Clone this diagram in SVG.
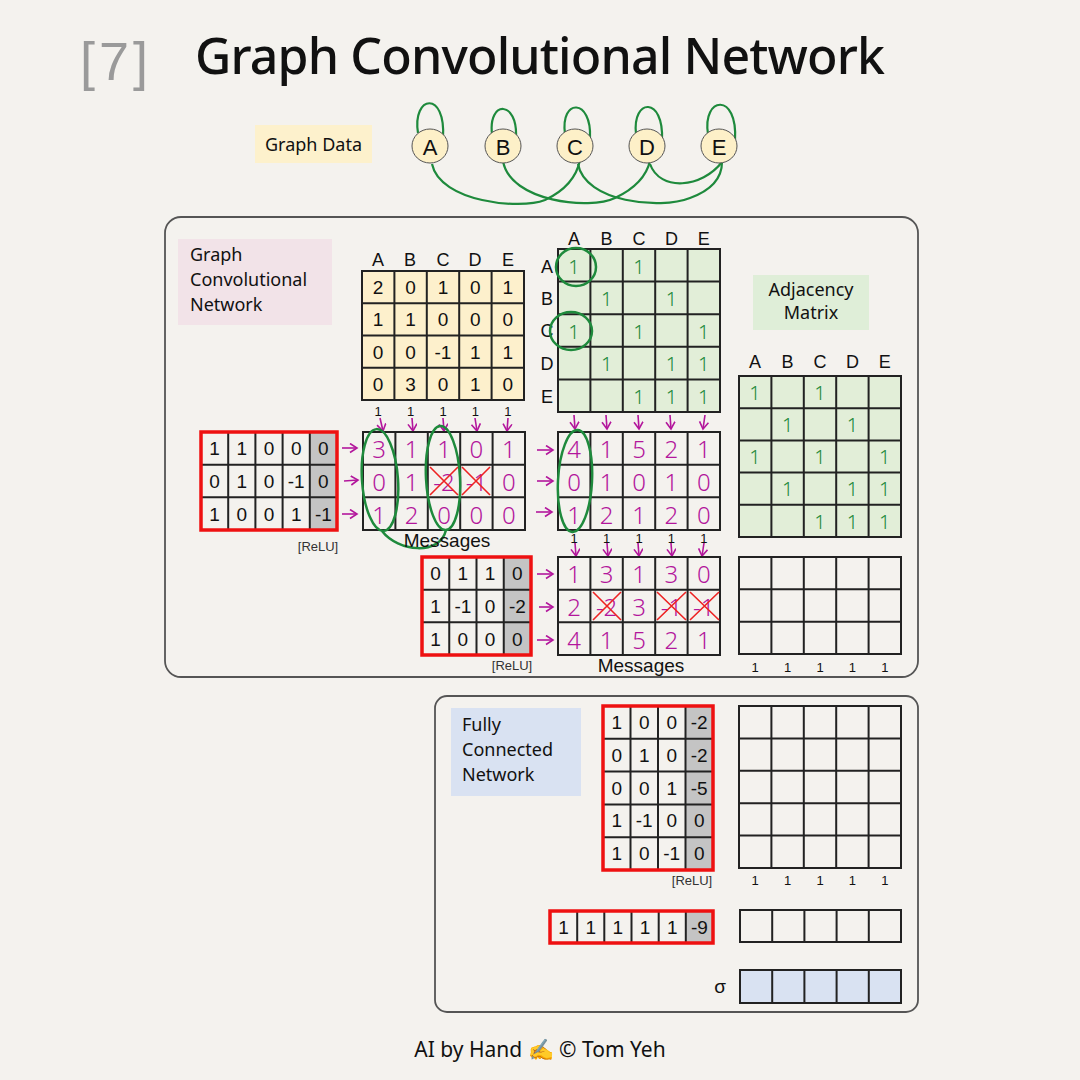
<svg xmlns="http://www.w3.org/2000/svg" width="1080" height="1080" viewBox="0 0 1080 1080">
<style>
.t{font-family:"Liberation Sans","DejaVu Sans",sans-serif;font-size:19px;fill:#111;text-anchor:middle;dominant-baseline:central}
.hdr{font-family:"Liberation Sans","DejaVu Sans",sans-serif;font-size:18px;fill:#111;text-anchor:middle;dominant-baseline:central}
.node{font-family:"Liberation Sans","DejaVu Sans",sans-serif;font-size:22px;fill:#111;text-anchor:middle;dominant-baseline:central}
.one{font-family:"Liberation Sans","DejaVu Sans",sans-serif;font-size:13px;fill:#111;text-anchor:middle;dominant-baseline:central}
.lbl{font-family:"Noto Sans","DejaVu Sans",sans-serif;font-size:18px;fill:#111}
.hand{font-family:"Noto Sans","DejaVu Sans",sans-serif;font-size:24px;font-weight:300;fill:#b3169c;text-anchor:middle;dominant-baseline:central}
.gone{font-family:"Noto Sans","DejaVu Sans",sans-serif;font-size:20px;font-weight:300;fill:#1e8a3c;text-anchor:middle;dominant-baseline:central}
.grid{fill:none;stroke:#222;stroke-width:2}
.red{fill:none;stroke:#ee1111;stroke-width:3.5}
.gray{fill:#c4c4c4}
.gc{fill:none;stroke:#1e8a3c;stroke-width:2.5}
.pa{fill:none;stroke:#b3169c;stroke-width:1.6;marker-end:url(#ah)}
.x{stroke:#ee2222;stroke-width:1.6}
.box{fill:none;stroke:#555;stroke-width:1.8}
.edge{fill:none;stroke:#1e8a3c;stroke-width:2.2}
.small{font-family:"Liberation Sans","DejaVu Sans",sans-serif;font-size:13px;fill:#333;text-anchor:middle}
</style>
<defs>
<marker id="ah" markerUnits="userSpaceOnUse" markerWidth="12" markerHeight="12" refX="8" refY="5" orient="auto">
<path d="M1,0.5 L8,5 L1,9.5" fill="none" stroke="#b3169c" stroke-width="1.6"/>
</marker>
</defs>
<rect width="1080" height="1080" fill="#f4f2ee"/>

<g id="title">
<text x="80" y="80" font-family="Liberation Sans,DejaVu Sans,sans-serif" font-size="54" fill="#9a9a9a" textLength="68">[7]</text>
<text x="195" y="74" font-family="Noto Sans,DejaVu Sans,sans-serif" font-size="50" font-weight="500" fill="#111" textLength="690">Graph Convolutional Network</text>
</g>

<g id="graph-data-label">
<rect x="255" y="125" width="117" height="38" fill="#fdf1cc"/>
<text class="lbl" x="265" y="151">Graph Data</text>
</g>

<g id="connectors">
<path class="edge" d="M418,133 C412,95 446,90 443,138"/>
<path class="edge" d="M492,134 C488,100 518,100 516,138"/>
<path class="edge" d="M565,134 C560,98 592,98 590,138"/>
<path class="edge" d="M636,134 C632,98 664,96 662,140"/>
<path class="edge" d="M708,134 C702,96 738,92 735,140"/>
<path class="edge" d="M432,164 C440,202 520,210 545,200 C562,192 576,180 580,160"/>
<path class="edge" d="M503,161 C510,202 590,210 615,198 C632,190 646,178 650,161"/>
<path class="edge" d="M578,164 C585,202 660,210 690,198 C712,190 722,178 722,162"/>
<path class="edge" d="M650,164 C660,192 702,188 722,162"/>
<path class="pa" d="M380,418 L383,431"/>
<path class="pa" d="M412,418 L413,431"/>
<path class="pa" d="M443,418 L444,431"/>
<path class="pa" d="M475,418 L477,431"/>
<path class="pa" d="M508,418 L507,431"/>
<path class="pa" d="M342,448 L357,448"/>
<path class="pa" d="M344,481 L358,480"/>
<path class="pa" d="M342,514 L357,514"/>
<path class="pa" d="M574,415 L575,429"/>
<path class="pa" d="M606,415 L607,429"/>
<path class="pa" d="M638,415 L639,429"/>
<path class="pa" d="M670,415 L671,429"/>
<path class="pa" d="M705,415 L703,429"/>
<path class="pa" d="M537,450 L553,450"/>
<path class="pa" d="M537,481 L553,481"/>
<path class="pa" d="M536,512 L552,512"/>
<path class="pa" d="M575,543 L576,556"/>
<path class="pa" d="M607,543 L608,556"/>
<path class="pa" d="M638,543 L639,556"/>
<path class="pa" d="M671,543 L672,556"/>
<path class="pa" d="M704,543 L702,556"/>
<path class="pa" d="M537,574 L553,574"/>
<path class="pa" d="M539,607 L553,607"/>
<path class="pa" d="M537,640 L553,640"/>
</g>

<g id="node-A"><ellipse cx="430" cy="146" rx="18" ry="17" fill="#fdf0c8" stroke="#555" stroke-width="1"/><text class="node" x="430" y="147">A</text></g>
<g id="node-B"><ellipse cx="503" cy="146" rx="18" ry="17" fill="#fdf0c8" stroke="#555" stroke-width="1"/><text class="node" x="503" y="147">B</text></g>
<g id="node-C"><ellipse cx="575" cy="146" rx="18" ry="17" fill="#fdf0c8" stroke="#555" stroke-width="1"/><text class="node" x="575" y="147">C</text></g>
<g id="node-D"><ellipse cx="647" cy="146" rx="18" ry="17" fill="#fdf0c8" stroke="#555" stroke-width="1"/><text class="node" x="647" y="147">D</text></g>
<g id="node-E"><ellipse cx="719" cy="146" rx="18" ry="17" fill="#fdf0c8" stroke="#555" stroke-width="1"/><text class="node" x="719" y="147">E</text></g>

<g id="gcn-panel">
<rect class="box" x="165" y="217" width="753" height="460" rx="16"/>
<rect x="178" y="239" width="154" height="86" fill="#f2e3e8"/>
<text class="lbl" x="190" y="261">Graph</text>
<text class="lbl" x="190" y="286">Convolutional</text>
<text class="lbl" x="190" y="311">Network</text>
</g>

<g id="features">
<text class="hdr" x="378" y="260">A</text><text class="hdr" x="410" y="260">B</text><text class="hdr" x="443" y="260">C</text><text class="hdr" x="475" y="260">D</text><text class="hdr" x="508" y="260">E</text>
<rect x="362" y="271" width="162" height="129" fill="#fdf0cc"/>
<path class="grid" d="M362,271 H524 V400 H362 Z M394.4,271 V400 M426.8,271 V400 M459.2,271 V400 M491.6,271 V400 M362,303.25 H524 M362,335.5 H524 M362,367.75 H524"/>
<text class="t" x="378" y="287">2</text><text class="t" x="410.6" y="287">0</text><text class="t" x="443" y="287">1</text><text class="t" x="475.4" y="287">0</text><text class="t" x="507.8" y="287">1</text>
<text class="t" x="378" y="319">1</text><text class="t" x="410.6" y="319">1</text><text class="t" x="443" y="319">0</text><text class="t" x="475.4" y="319">0</text><text class="t" x="507.8" y="319">0</text>
<text class="t" x="378" y="352">0</text><text class="t" x="410.6" y="352">0</text><text class="t" x="443" y="352">-1</text><text class="t" x="475.4" y="352">1</text><text class="t" x="507.8" y="352">1</text>
<text class="t" x="378" y="384">0</text><text class="t" x="410.6" y="384">3</text><text class="t" x="443" y="384">0</text><text class="t" x="475.4" y="384">1</text><text class="t" x="507.8" y="384">0</text>
<text class="one" x="378" y="411">1</text><text class="one" x="410.6" y="411">1</text><text class="one" x="443" y="411">1</text><text class="one" x="475.4" y="411">1</text><text class="one" x="507.8" y="411">1</text>
</g>

<g id="adjacency-annotated">
<text class="hdr" x="574" y="239">A</text><text class="hdr" x="606.6" y="239">B</text><text class="hdr" x="639" y="239">C</text><text class="hdr" x="671.4" y="239">D</text><text class="hdr" x="703.8" y="239">E</text>
<text class="hdr" x="547" y="267">A</text><text class="hdr" x="547" y="299">B</text><text class="hdr" x="547" y="331">C</text><text class="hdr" x="547" y="364">D</text><text class="hdr" x="547" y="397">E</text>
<rect x="558" y="249" width="162" height="163" fill="#e2eed8"/>
<path class="grid" d="M558,249 H720 V412 H558 Z M590.4,249 V412 M622.8,249 V412 M655.2,249 V412 M687.6,249 V412 M558,281.6 H720 M558,314.2 H720 M558,346.8 H720 M558,379.4 H720"/>
<text class="gone" x="574" y="266">1</text><text class="gone" x="639" y="266">1</text>
<text class="gone" x="606.6" y="298">1</text><text class="gone" x="671.4" y="298">1</text>
<text class="gone" x="574" y="331">1</text><text class="gone" x="639" y="331">1</text><text class="gone" x="703.8" y="331">1</text>
<text class="gone" x="606.6" y="363">1</text><text class="gone" x="671.4" y="363">1</text><text class="gone" x="703.8" y="363">1</text>
<text class="gone" x="639" y="396">1</text><text class="gone" x="671.4" y="396">1</text><text class="gone" x="703.8" y="396">1</text>
<ellipse class="gc" cx="576" cy="267" rx="20" ry="19"/>
<ellipse class="gc" cx="571" cy="331" rx="21" ry="19"/>
</g>

<g id="weights-1">
<rect x="309.8" y="432" width="27.2" height="98" class="gray"/>
<path class="grid" d="M228.2,432 V530 M255.4,432 V530 M282.6,432 V530 M309.8,432 V530 M201,464.7 H337 M201,497.3 H337"/>
<rect class="red" x="201" y="432" width="136" height="98"/>
<text class="t" x="214.6" y="448">1</text><text class="t" x="241.8" y="448">1</text><text class="t" x="269" y="448">0</text><text class="t" x="296.2" y="448">0</text><text class="t" x="323.4" y="448">0</text>
<text class="t" x="214.6" y="481">0</text><text class="t" x="241.8" y="481">1</text><text class="t" x="269" y="481">0</text><text class="t" x="296.2" y="481">-1</text><text class="t" x="323.4" y="481">0</text>
<text class="t" x="214.6" y="514">1</text><text class="t" x="241.8" y="514">0</text><text class="t" x="269" y="514">0</text><text class="t" x="296.2" y="514">1</text><text class="t" x="323.4" y="514">-1</text>
<text class="small" x="318" y="551">[ReLU]</text>
</g>

<g id="messages-1">
<path class="grid" d="M363,432 H525 V530 H363 Z M395.4,432 V530 M427.8,432 V530 M460.2,432 V530 M492.6,432 V530 M363,464.7 H525 M363,497.3 H525"/>
<text class="hand" x="379" y="448">3</text><text class="hand" x="411.6" y="448">1</text><text class="hand" x="444" y="448">1</text><text class="hand" x="476.4" y="448">0</text><text class="hand" x="508.8" y="448">1</text>
<text class="hand" x="379" y="481">0</text><text class="hand" x="411.6" y="481">1</text><text class="hand" x="444" y="481">-2</text><text class="hand" x="476.4" y="481">-1</text><text class="hand" x="508.8" y="481">0</text>
<text class="hand" x="379" y="514">1</text><text class="hand" x="411.6" y="514">2</text><text class="hand" x="444" y="514">0</text><text class="hand" x="476.4" y="514">0</text><text class="hand" x="508.8" y="514">0</text>
<path class="x" d="M430,467 L458,495 M458,467 L430,495 M462,467 L490,495 M490,467 L462,495"/>
<ellipse class="gc" cx="380" cy="480" rx="18" ry="51" transform="rotate(-4 380 480)"/>
<ellipse class="gc" cx="443" cy="478" rx="17" ry="52" transform="rotate(-3 443 478)"/>
<path class="gc" d="M446,530 C440,556 398,552 382,531"/>
<text x="447" y="547" font-family="Liberation Sans,DejaVu Sans,sans-serif" font-size="19" fill="#111" text-anchor="middle">Messages</text>
</g>

<g id="messages-2">
<path class="grid" d="M558,432 H720 V530 H558 Z M590.4,432 V530 M622.8,432 V530 M655.2,432 V530 M687.6,432 V530 M558,464.7 H720 M558,497.3 H720"/>
<text class="hand" x="574" y="448">4</text><text class="hand" x="606.6" y="448">1</text><text class="hand" x="639" y="448">5</text><text class="hand" x="671.4" y="448">2</text><text class="hand" x="703.8" y="448">1</text>
<text class="hand" x="574" y="481">0</text><text class="hand" x="606.6" y="481">1</text><text class="hand" x="639" y="481">0</text><text class="hand" x="671.4" y="481">1</text><text class="hand" x="703.8" y="481">0</text>
<text class="hand" x="574" y="514">1</text><text class="hand" x="606.6" y="514">2</text><text class="hand" x="639" y="514">1</text><text class="hand" x="671.4" y="514">2</text><text class="hand" x="703.8" y="514">0</text>
<ellipse class="gc" cx="575" cy="481" rx="17" ry="51" transform="rotate(3 575 481)"/>
<text class="one" x="574" y="538">1</text><text class="one" x="606.6" y="538">1</text><text class="one" x="639" y="538">1</text><text class="one" x="671.4" y="538">1</text><text class="one" x="703.8" y="538">1</text>
</g>

<g id="weights-2">
<rect x="503.75" y="557" width="27.25" height="98" class="gray"/>
<path class="grid" d="M449.25,557 V655 M476.5,557 V655 M503.75,557 V655 M422,589.7 H531 M422,622.3 H531"/>
<rect class="red" x="422" y="557" width="109" height="98"/>
<text class="t" x="435.6" y="573">0</text><text class="t" x="462.9" y="573">1</text><text class="t" x="490.1" y="573">1</text><text class="t" x="517.4" y="573">0</text>
<text class="t" x="435.6" y="606">1</text><text class="t" x="462.9" y="606">-1</text><text class="t" x="490.1" y="606">0</text><text class="t" x="517.4" y="606">-2</text>
<text class="t" x="435.6" y="639">1</text><text class="t" x="462.9" y="639">0</text><text class="t" x="490.1" y="639">0</text><text class="t" x="517.4" y="639">0</text>
<text class="small" x="512" y="670">[ReLU]</text>
</g>

<g id="messages-3">
<path class="grid" d="M558,557 H720 V655 H558 Z M590.4,557 V655 M622.8,557 V655 M655.2,557 V655 M687.6,557 V655 M558,589.7 H720 M558,622.3 H720"/>
<text class="hand" x="574" y="573">1</text><text class="hand" x="606.6" y="573">3</text><text class="hand" x="639" y="573">1</text><text class="hand" x="671.4" y="573">3</text><text class="hand" x="703.8" y="573">0</text>
<text class="hand" x="574" y="606">2</text><text class="hand" x="606.6" y="606">-2</text><text class="hand" x="639" y="606">3</text><text class="hand" x="671.4" y="606">-1</text><text class="hand" x="703.8" y="606">-1</text>
<text class="hand" x="574" y="639">4</text><text class="hand" x="606.6" y="639">1</text><text class="hand" x="639" y="639">5</text><text class="hand" x="671.4" y="639">2</text><text class="hand" x="703.8" y="639">1</text>
<path class="x" d="M593,592 L621,620 M621,592 L593,620 M657,592 L686,620 M686,592 L657,620 M690,592 L719,620 M719,592 L690,620"/>
<text x="641" y="672" font-family="Liberation Sans,DejaVu Sans,sans-serif" font-size="19" fill="#111" text-anchor="middle">Messages</text>
</g>

<g id="adjacency-matrix">
<rect x="753" y="275" width="116" height="55" fill="#dfeed8"/>
<text class="lbl" x="811" y="296" text-anchor="middle" font-size="15.5">Adjacency</text>
<text class="lbl" x="811" y="319" text-anchor="middle" font-size="15.5">Matrix</text>
<text class="hdr" x="755" y="362">A</text><text class="hdr" x="787.6" y="362">B</text><text class="hdr" x="820" y="362">C</text><text class="hdr" x="852.4" y="362">D</text><text class="hdr" x="884.8" y="362">E</text>
<rect x="739" y="376" width="162" height="161" fill="#e2eed8"/>
<path class="grid" d="M739,376 H901 V537 H739 Z M771.4,376 V537 M803.8,376 V537 M836.2,376 V537 M868.6,376 V537 M739,408.2 H901 M739,440.4 H901 M739,472.6 H901 M739,504.8 H901"/>
<text class="gone" x="755" y="392">1</text><text class="gone" x="820" y="392">1</text>
<text class="gone" x="787.6" y="424">1</text><text class="gone" x="852.4" y="424">1</text>
<text class="gone" x="755" y="456.5">1</text><text class="gone" x="820" y="456.5">1</text><text class="gone" x="884.8" y="456.5">1</text>
<text class="gone" x="787.6" y="488.7">1</text><text class="gone" x="852.4" y="488.7">1</text><text class="gone" x="884.8" y="488.7">1</text>
<text class="gone" x="820" y="521">1</text><text class="gone" x="852.4" y="521">1</text><text class="gone" x="884.8" y="521">1</text>
</g>

<g id="gcn-output">
<path class="grid" d="M739,557 H901 V654 H739 Z M771.4,557 V654 M803.8,557 V654 M836.2,557 V654 M868.6,557 V654 M739,589.3 H901 M739,621.7 H901"/>
<text class="one" x="755" y="667">1</text><text class="one" x="787.6" y="667">1</text><text class="one" x="820" y="667">1</text><text class="one" x="852.4" y="667">1</text><text class="one" x="884.8" y="667">1</text>
</g>

<g id="fc-panel">
<rect class="box" x="435" y="696" width="483" height="316" rx="12"/>
<rect x="451" y="708" width="130" height="88" fill="#d9e2f2"/>
<text class="lbl" x="462" y="731">Fully</text>
<text class="lbl" x="462" y="756">Connected</text>
<text class="lbl" x="462" y="781">Network</text>
</g>

<g id="fc-weights">
<rect x="685.5" y="706" width="27.5" height="164" class="gray"/>
<path class="grid" d="M630.5,706 V870 M658,706 V870 M685.5,706 V870 M603,738.8 H713 M603,771.6 H713 M603,804.4 H713 M603,837.2 H713"/>
<rect class="red" x="603" y="706" width="110" height="164"/>
<text class="t" x="616.75" y="722.4">1</text><text class="t" x="644.25" y="722.4">0</text><text class="t" x="671.75" y="722.4">0</text><text class="t" x="699.25" y="722.4">-2</text>
<text class="t" x="616.75" y="755.2">0</text><text class="t" x="644.25" y="755.2">1</text><text class="t" x="671.75" y="755.2">0</text><text class="t" x="699.25" y="755.2">-2</text>
<text class="t" x="616.75" y="788">0</text><text class="t" x="644.25" y="788">0</text><text class="t" x="671.75" y="788">1</text><text class="t" x="699.25" y="788">-5</text>
<text class="t" x="616.75" y="820.8">1</text><text class="t" x="644.25" y="820.8">-1</text><text class="t" x="671.75" y="820.8">0</text><text class="t" x="699.25" y="820.8">0</text>
<text class="t" x="616.75" y="853.6">1</text><text class="t" x="644.25" y="853.6">0</text><text class="t" x="671.75" y="853.6">-1</text><text class="t" x="699.25" y="853.6">0</text>
<text class="small" x="692" y="885">[ReLU]</text>
</g>

<g id="fc-hidden">
<path class="grid" d="M739,706 H901 V868 H739 Z M771.4,706 V868 M803.8,706 V868 M836.2,706 V868 M868.6,706 V868 M739,738.4 H901 M739,770.8 H901 M739,803.2 H901 M739,835.6 H901"/>
<text class="one" x="755" y="880">1</text><text class="one" x="787.6" y="880">1</text><text class="one" x="820" y="880">1</text><text class="one" x="852.4" y="880">1</text><text class="one" x="884.8" y="880">1</text>
</g>

<g id="fc-weights-2">
<rect x="685.8" y="911" width="27.2" height="32" class="gray"/>
<path class="grid" d="M577.2,911 V943 M604.3,911 V943 M631.5,911 V943 M658.7,911 V943 M685.8,911 V943"/>
<rect class="red" x="550" y="911" width="163" height="32"/>
<text class="t" x="563.6" y="927">1</text><text class="t" x="590.7" y="927">1</text><text class="t" x="617.9" y="927">1</text><text class="t" x="645.1" y="927">1</text><text class="t" x="672.2" y="927">1</text><text class="t" x="699.4" y="927">-9</text>
</g>

<g id="fc-output">
<path class="grid" d="M740,910 H901 V942 H740 Z M772.2,910 V942 M804.4,910 V942 M836.6,910 V942 M868.8,910 V942"/>
</g>

<g id="sigma-output">
<text class="t" x="720" y="986" font-size="21">σ</text>
<rect x="740" y="970" width="161" height="33" fill="#d9e2f2"/>
<path class="grid" d="M740,970 H901 V1003 H740 Z M772.2,970 V1003 M804.4,970 V1003 M836.6,970 V1003 M868.8,970 V1003"/>
</g>

<g id="footer">
<text x="540" y="1057" font-family="Noto Sans,DejaVu Sans,sans-serif" font-size="21" fill="#111" text-anchor="middle">AI by Hand ✍️  © Tom Yeh</text>
</g>
</svg>
